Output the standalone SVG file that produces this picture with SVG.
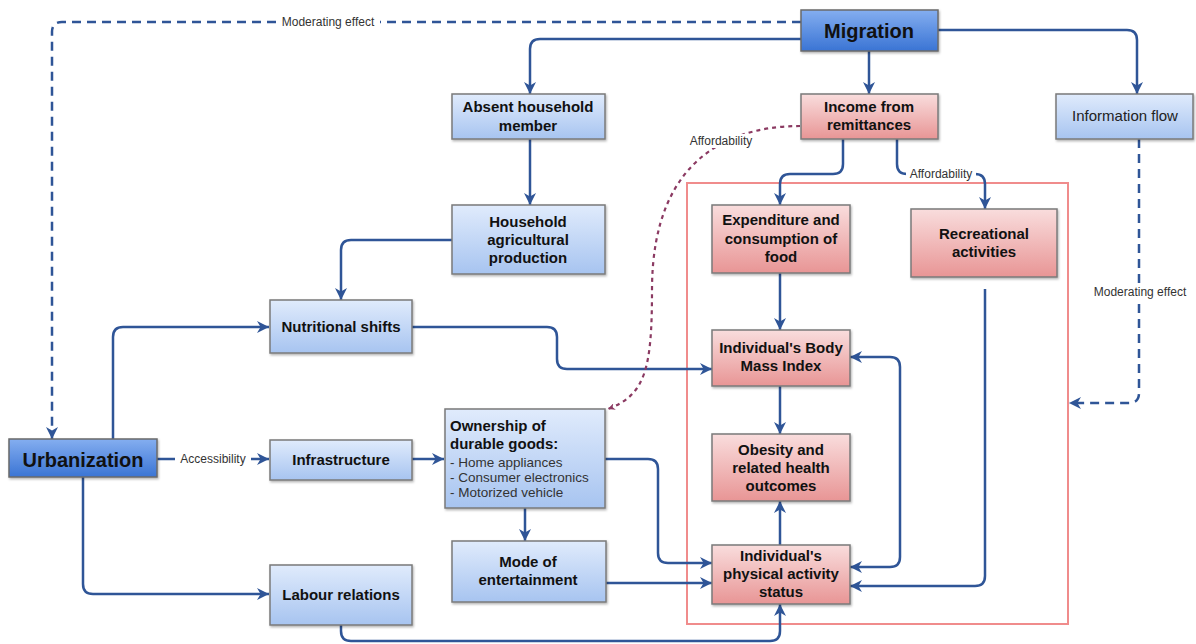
<svg xmlns="http://www.w3.org/2000/svg" width="1196" height="644" viewBox="0 0 1196 644">
<defs>
<linearGradient id="gBlue" x1="0" y1="0" x2="0" y2="1"><stop offset="0" stop-color="#e0ebfc"/><stop offset="1" stop-color="#a7c4f0"/></linearGradient>
<linearGradient id="gDark" x1="0" y1="0" x2="0" y2="1"><stop offset="0" stop-color="#84aef0"/><stop offset="1" stop-color="#3a74d4"/></linearGradient>
<linearGradient id="gPink" x1="0" y1="0" x2="0" y2="1"><stop offset="0" stop-color="#f9dddd"/><stop offset="1" stop-color="#e89595"/></linearGradient>
<filter id="sh" x="-10%" y="-10%" width="120%" height="130%"><feDropShadow dx="1" dy="1.5" stdDeviation="1" flood-color="#000" flood-opacity="0.3"/></filter>
<marker id="arr" viewBox="0 0 10 10" refX="10" refY="5" markerUnits="userSpaceOnUse" markerWidth="12" markerHeight="12" orient="auto-start-reverse"><path d="M0,0 L10,5 L0,10 L3,5 z" fill="#2f5597"/></marker>
<marker id="arrM" viewBox="0 0 10 10" refX="10" refY="5" markerUnits="userSpaceOnUse" markerWidth="7" markerHeight="7" orient="auto"><path d="M0,0 L10,5 L0,10 L3,5 z" fill="#8b3a62"/></marker>
<style>
.nb{fill:url(#gBlue);stroke:#7a7a7a;stroke-width:1.5;filter:url(#sh)}
.nd{fill:url(#gDark);stroke:#6a6a6a;stroke-width:1.5;filter:url(#sh)}
.np{fill:url(#gPink);stroke:#7a7a7a;stroke-width:1.5;filter:url(#sh)}
.t{font-family:"Liberation Sans",Arial,sans-serif;font-size:15px;font-weight:bold;fill:#111;text-anchor:middle}
.tr{font-family:"Liberation Sans",Arial,sans-serif;font-size:15px;fill:#222;text-anchor:middle}
.tb{font-family:"Liberation Sans",Arial,sans-serif;font-size:20px;font-weight:bold;fill:#111;text-anchor:middle}
.tl{font-family:"Liberation Sans",Arial,sans-serif;font-size:15px;font-weight:bold;fill:#111}
.ts{font-family:"Liberation Sans",Arial,sans-serif;font-size:13.5px;fill:#333}
.lab{font-family:"Liberation Sans",Arial,sans-serif;font-size:12px;fill:#333;text-anchor:middle}
.c{fill:none;stroke:#2f5597;stroke-width:2.5;marker-end:url(#arr)}
.cd{fill:none;stroke:#2f5597;stroke-width:2.5;stroke-dasharray:9,6;marker-end:url(#arr)}
.cm{fill:none;stroke:#8b3a62;stroke-width:2.2;stroke-dasharray:4,4;marker-end:url(#arrM)}
.bg{fill:#fff}
</style>
</defs>
<rect width="1196" height="644" fill="#fff"/>
<rect id="household-box" x="687" y="183" width="381" height="441" fill="none" stroke="#f08c8c" stroke-width="2"/>
<g id="connectors">
<path class="cd" d="M801,22 L62,22 Q52,22 52,32 L52,439"/>
<rect class="bg" x="276" y="15" width="104" height="14"/>
<text class="lab" x="328" y="26">Moderating effect</text>
<path class="c" d="M801,39 L540,39 Q530,39 530,49 L530,94"/>
<path class="c" d="M530,139 L530,205"/>
<path class="c" d="M452,240 L351,240 Q341,240 341,250 L341,300"/>
<path class="c" d="M113,439 L113,337 Q113,327 123,327 L269,327"/>
<path class="c" d="M157,459 L269,459"/>
<rect class="bg" x="175" y="452" width="76" height="14"/>
<text class="lab" x="213" y="463">Accessibility</text>
<path class="c" d="M412,459 L444,459"/>
<path class="c" d="M525,508 L525,541"/>
<path class="c" d="M83,477 L83,584 Q83,594 93,594 L269,594"/>
<path class="c" d="M341,625 L341,631 Q341,641 351,641 L770,641 Q780,641 780,631 L780,604"/>
<path class="c" d="M869,51 L869,94"/>
<path class="c" d="M938,30 L1127,30 Q1137,30 1137,40 L1137,94"/>
<path class="cd" d="M1139,139 L1139,393 Q1139,403 1129,403 L1069,403"/>
<rect class="bg" x="1088" y="285" width="104" height="14"/>
<text class="lab" x="1140" y="296">Moderating effect</text>
<path class="c" d="M843,139 L843,164 Q843,174 833,174 L790,174 Q780,174 780,184 L780,205"/>
<path class="c" d="M897,139 L897,164 Q897,174 907,174 L975,174 Q985,174 985,184 L985,209"/>
<rect class="bg" x="906" y="167" width="70" height="14"/>
<text class="lab" x="941" y="178">Affordability</text>
<path class="c" d="M780,273 L780,330"/>
<path class="c" d="M412,327 L547,327 Q557,327 557,337 L557,359 Q557,369 567,369 L712,369"/>
<path class="c" d="M780,386 L780,434"/>
<path class="c" d="M780,545 L780,501"/>
<path class="c" style="marker-start:url(#arr)" d="M850,567 L890,567 Q900,567 900,557 L900,367 Q900,357 890,357 L850,357"/>
<path class="c" d="M985,289 L985,576 Q985,586 975,586 L850,586"/>
<path class="c" d="M605,459 L648,459 Q658,459 658,469 L658,553 Q658,563 668,563 L712,563"/>
<path class="c" d="M606,583 L712,583"/>
<path class="cm" d="M800,126 C740,126 652,150 652,290 C652,370 645,395 608,409"/>
<rect class="bg" x="687" y="134" width="69" height="14"/>
<text class="lab" x="721" y="145">Affordability</text>
</g>
<g id="migration"><rect class="nd" x="801" y="10" width="137" height="41"/><text class="tb" x="869" y="38">Migration</text></g>
<g id="urbanization"><rect class="nd" x="9" y="439" width="148" height="38"/><text class="tb" x="83" y="467">Urbanization</text></g>
<g id="absent-household-member"><rect class="nb" x="452" y="94" width="153" height="45"/><text class="t" x="528" y="112">Absent household</text><text class="t" x="528" y="131">member</text></g>
<g id="household-agricultural-production"><rect class="nb" x="452" y="205" width="153" height="69"/><text class="t" x="528" y="227">Household</text><text class="t" x="528" y="245">agricultural</text><text class="t" x="528" y="263">production</text></g>
<g id="nutritional-shifts"><rect class="nb" x="270" y="300" width="142" height="53"/><text class="t" x="341" y="332">Nutritional shifts</text></g>
<g id="infrastructure"><rect class="nb" x="270" y="440" width="142" height="40"/><text class="t" x="341" y="465">Infrastructure</text></g>
<g id="labour-relations"><rect class="nb" x="270" y="565" width="142" height="60"/><text class="t" x="341" y="600">Labour relations</text></g>
<g id="ownership-durable-goods"><rect class="nb" x="445" y="409" width="160" height="99"/><text class="tl" x="450" y="431">Ownership of</text><text class="tl" x="450" y="449">durable goods:</text><text class="ts" x="450" y="467">- Home appliances</text><text class="ts" x="450" y="482">- Consumer electronics</text><text class="ts" x="450" y="497">- Motorized vehicle</text></g>
<g id="mode-of-entertainment"><rect class="nb" x="452" y="541" width="154" height="61"/><text class="t" x="528" y="567">Mode of</text><text class="t" x="528" y="585">entertainment</text></g>
<g id="income-from-remittances"><rect class="np" x="801" y="94" width="137" height="45"/><text class="t" x="869" y="112">Income from</text><text class="t" x="869" y="130">remittances</text></g>
<g id="information-flow"><rect class="nb" x="1056" y="94" width="137" height="45"/><text class="tr" x="1125" y="121">Information flow</text></g>
<g id="expenditure-food"><rect class="np" x="712" y="205" width="138" height="68"/><text class="t" x="781" y="225">Expenditure and</text><text class="t" x="781" y="244">consumption of</text><text class="t" x="781" y="262">food</text></g>
<g id="recreational-activities"><rect class="np" x="911" y="209" width="146" height="68"/><text class="t" x="984" y="239">Recreational</text><text class="t" x="984" y="257">activities</text></g>
<g id="bmi"><rect class="np" x="712" y="330" width="138" height="56"/><text class="t" x="781" y="353">Individual's Body</text><text class="t" x="781" y="371">Mass Index</text></g>
<g id="obesity"><rect class="np" x="712" y="434" width="138" height="67"/><text class="t" x="781" y="455">Obesity and</text><text class="t" x="781" y="473">related health</text><text class="t" x="781" y="491">outcomes</text></g>
<g id="physical-activity"><rect class="np" x="712" y="545" width="138" height="59"/><text class="t" x="781" y="561">Individual's</text><text class="t" x="781" y="579">physical activity</text><text class="t" x="781" y="597">status</text></g>
</svg>
